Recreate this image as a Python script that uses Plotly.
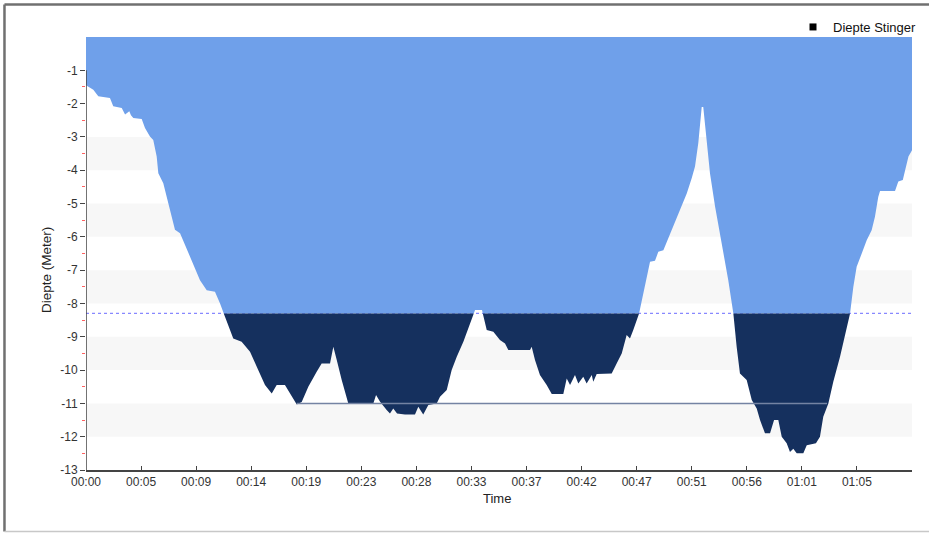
import numpy as np
import plotly.graph_objects as go

# ---- data (time in minutes, depth in metres) ----
time_min = [0.00, 0.62, 1.04, 2.03, 2.31, 3.03, 3.31, 3.67, 3.81, 4.01, 4.72, 5.00, 5.42, 5.70,
            5.99, 6.13, 6.55, 6.97, 7.54, 7.97, 8.81, 9.66, 10.23, 10.93, 11.36, 11.78, 12.48,
            13.19, 13.90, 14.47, 15.17, 15.74, 16.16, 16.86, 17.43, 17.86, 18.28, 18.84, 19.55,
            19.97, 20.68, 20.96, 21.25, 21.67, 22.23, 24.35, 24.58, 24.92, 25.48, 25.76, 26.04,
            26.36, 27.03, 27.88, 28.16, 28.58, 29.01, 29.72, 30.00, 30.57, 30.99, 31.42, 31.98,
            32.54, 32.97, 33.56, 33.96, 34.52, 35.08, 35.51, 35.79, 37.63, 37.77, 38.05, 38.47,
            39.04, 39.47, 40.45, 40.74, 41.02, 41.44, 41.72, 42.14, 42.43, 42.86, 42.99, 43.28,
            44.55, 44.97, 45.40, 45.82, 46.10, 46.38, 46.81, 47.23, 47.52, 47.80, 48.22, 48.50,
            48.93, 49.77, 50.34, 50.91, 51.33, 51.61, 51.89, 52.18, 52.31, 52.60, 52.88, 53.31,
            53.73, 54.15, 54.43, 54.86, 55.14, 55.42, 55.99, 56.42, 56.84, 57.12, 57.54, 57.97,
            58.31, 58.67, 58.96, 59.38, 59.66, 59.94, 60.23, 60.79, 61.08, 61.86, 62.20, 62.48,
            62.91, 63.33, 63.90, 64.47, 64.75, 65.03, 65.31, 65.74, 66.16, 66.58, 66.86, 67.14,
            67.29, 68.56, 68.84, 69.22, 69.42, 69.70, 70.00]
depth = [-1.45, -1.58, -1.78, -1.83, -2.08, -2.13, -2.33, -2.23, -2.35, -2.43, -2.46, -2.73, -2.99, -3.09,
         -3.59, -4.09, -4.39, -4.99, -5.79, -5.89, -6.60, -7.30, -7.60, -7.65, -8.00, -8.40, -9.05,
         -9.15, -9.45, -9.90, -10.45, -10.70, -10.45, -10.45, -10.80, -11.03, -10.96, -10.50, -10.05,
         -9.80, -9.80, -9.30, -9.70, -10.30, -11.00, -11.00, -10.75, -10.95, -11.20, -11.30, -11.15,
         -11.30, -11.33, -11.33, -11.10, -11.33, -11.05, -11.00, -10.80, -10.60, -10.00, -9.60, -9.15,
         -8.60, -8.20, -8.20, -8.80, -8.85, -9.10, -9.20, -9.40, -9.40, -9.30, -9.70, -10.15,
         -10.45, -10.72, -10.72, -10.25, -10.45, -10.15, -10.40, -10.20, -10.40, -10.15, -10.35, -10.12,
         -10.10, -9.80, -9.50, -8.95, -9.05, -8.80, -8.40, -7.70, -7.20, -6.75, -6.72, -6.45,
         -6.40, -5.70, -5.20, -4.70, -4.24, -3.89, -3.18, -2.10, -2.10, -3.18, -4.09, -5.09,
         -5.89, -6.75, -7.30, -8.30, -9.30, -10.10, -10.30, -10.90, -11.15, -11.50, -11.90, -11.90,
         -11.50, -11.50, -12.00, -12.20, -12.46, -12.36, -12.50, -12.50, -12.26, -12.20, -12.00, -11.40,
         -11.00, -10.35, -9.60, -8.70, -8.30, -7.50, -6.90, -6.50, -6.10, -5.80, -5.40, -4.80,
         -4.62, -4.62, -4.34, -4.29, -3.99, -3.59, -3.40]

threshold = -8.3          # dashed reference line
limit_depth = -11.0       # grey limit line
limit_start, limit_end = 17.86, 62.8

x_ticktext = ["00:00", "00:05", "00:09", "00:14", "00:19", "00:23", "00:28", "00:33",
              "00:37", "00:42", "00:47", "00:51", "00:56", "01:01", "01:05"]
y_tickvals = [-1, -2, -3, -4, -5, -6, -7, -8, -9, -10, -11, -12, -13]
y_minorvals = [-1.5, -2.5, -3.5, -4.5, -5.5, -6.5, -7.5, -8.5, -9.5, -10.5, -11.5, -12.5]
band_ranges = [(-4, -3), (-6, -5), (-8, -7), (-10, -9), (-12, -11)]
legend_name = "Diepte Stinger"

t_end = 70.0
x_tickvals = [k * t_end / 15 for k in range(15)]

# insert exact threshold crossings so the two colour fills meet cleanly
xs, ys = [time_min[0]], [depth[0]]
for i in range(1, len(time_min)):
    x0, y0, x1, y1 = time_min[i - 1], depth[i - 1], time_min[i], depth[i]
    if (y0 - threshold) * (y1 - threshold) < 0:
        xc = x0 + (threshold - y0) * (x1 - x0) / (y1 - y0)
        xs.append(xc)
        ys.append(threshold)
    xs.append(x1)
    ys.append(y1)
xs = np.array(xs)
ys = np.array(ys)
light = np.maximum(ys, threshold)
dark = np.minimum(ys, threshold)

LIGHT = "#6fa0ea"
NAVY = "#15305e"
FONT = "Liberation Sans"

fig = go.Figure()
fig.add_trace(go.Scatter(x=[0, t_end], y=[threshold, threshold], mode="lines",
                         line=dict(color="#8888ff", width=1.3, dash="dot"),
                         showlegend=False, hoverinfo="skip"))
fig.add_trace(go.Scatter(x=xs, y=light, mode="lines", fill="tozeroy", fillcolor=LIGHT,
                         line=dict(width=0, color=LIGHT), showlegend=False))
fig.add_trace(go.Scatter(x=xs, y=np.full(len(xs), threshold), mode="lines",
                         line=dict(width=0, color=NAVY), showlegend=False, hoverinfo="skip"))
fig.add_trace(go.Scatter(x=xs, y=dark, mode="lines", fill="tonexty", fillcolor=NAVY,
                         line=dict(width=0, color=NAVY), showlegend=False))
fig.add_trace(go.Scatter(x=[limit_start, limit_end], y=[limit_depth, limit_depth], mode="lines",
                         line=dict(color="#7483a3", width=1.5), showlegend=False))
fig.add_trace(go.Scatter(x=[None], y=[None], mode="markers", name=legend_name,
                         marker=dict(symbol="square", color="black", size=7)))

shapes = []
for lo, hi in band_ranges:
    shapes.append(dict(type="rect", xref="x", yref="y", x0=0, x1=t_end, y0=lo, y1=hi,
                       fillcolor="#f7f7f7", line=dict(width=0), layer="below"))
# y axis line (from -1 downward)
shapes.append(dict(type="line", xref="x", yref="y", x0=0, x1=0, y0=-13, y1=-1,
                   line=dict(color="#444444", width=1.5), layer="above"))
# outer frame
shapes.append(dict(type="line", xref="paper", yref="paper", x0=-0.0987, x1=1.03, y0=1.075, y1=1.075,
                   line=dict(color="#707070", width=2.5)))
shapes.append(dict(type="line", xref="paper", yref="paper", x0=-0.0987, x1=-0.0987, y0=1.075, y1=-0.142,
                   line=dict(color="#707070", width=2.5)))
shapes.append(dict(type="line", xref="paper", yref="paper", x0=-0.0987, x1=1.03, y0=-0.142, y1=-0.142,
                   line=dict(color="#c8c8c8", width=1.5)))

fig.update_layout(
    width=929, height=534, autosize=False,
    margin=dict(l=86, r=17, t=37, b=64, autoexpand=False),
    paper_bgcolor="white", plot_bgcolor="white",
    font=dict(family=FONT, size=12, color="#222222"),
    shapes=shapes,
    showlegend=True,
    legend=dict(x=(793 - 86) / 826, xanchor="left", y=(470 - 12) / 433, yanchor="top",
                bgcolor="rgba(0,0,0,0)", font=dict(family=FONT, size=13, color="#111111"),
                itemwidth=30),
    xaxis=dict(range=[0, t_end], tickmode="array", tickvals=x_tickvals, ticktext=x_ticktext,
               showgrid=False, zeroline=False, showline=True, linecolor="#444444", linewidth=1.5,
               ticks="inside", ticklen=4, tickcolor="#444444",
               tickfont=dict(family=FONT, size=12, color="#333333")),
    yaxis=dict(range=[-13, 0], tickmode="array", tickvals=y_tickvals,
               ticktext=[str(v) for v in y_tickvals],
               showgrid=False, zeroline=False, showline=False,
               ticks="outside", ticklen=5, tickcolor="#444444",
               minor=dict(tickmode="array", tickvals=y_minorvals, ticks="outside", ticklen=3,
                          tickcolor="#ff6060", showgrid=False),
               tickfont=dict(family=FONT, size=12, color="#333333")),
    annotations=[
        dict(text="Diepte (Meter)", xref="paper", yref="paper", x=(46 - 86) / 826,
             y=(470 - 270) / 433, xanchor="center", yanchor="middle", showarrow=False,
             textangle=-90, font=dict(family=FONT, size=13.5, color="#222222")),
        dict(text="Time", xref="paper", yref="paper", x=(497 - 86) / 826,
             y=(470 - 498) / 433, xanchor="center", yanchor="middle", showarrow=False,
             font=dict(family=FONT, size=13, color="#222222")),
    ],
)

fig.write_html("out.html", config={"displayModeBar": False, "responsive": False},
               post_script="document.body.style.margin='0';")
